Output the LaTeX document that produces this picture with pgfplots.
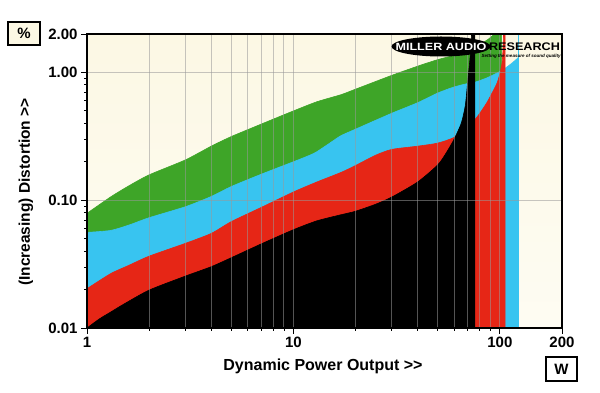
\documentclass[border=0pt]{standalone}
\usepackage{pgfplots}
\pgfplotsset{compat=1.18}
\usepackage{fontspec}
\setmainfont{Liberation Sans}
\definecolor{cream}{RGB}{252,248,228}
\definecolor{mgreen}{RGB}{62,165,40}
\definecolor{mblue}{RGB}{56,196,240}
\definecolor{mred}{RGB}{230,38,22}
\begin{document}
\begin{tikzpicture}[x=1pt,y=1pt]
\useasboundingbox (0,0) rectangle (600,393);
\begin{axis}[
  at={(87pt,65pt)}, anchor=south west,
  width=475pt, height=294pt, scale only axis,
  xmode=log, ymode=log, log origin y=infty,
  xmin=1, xmax=200, ymin=0.01, ymax=2,
  xtick={1,10,100,200}, xticklabels={1,10,100,200},
  minor xtick={2,3,4,5,6,7,8,9,20,30,40,50,60,70,80,90},
  ytick={0.01,0.1,1,2}, yticklabels={0.01,0.10,1.00,2.00},
  minor ytick={0.02,0.03,0.04,0.05,0.06,0.07,0.08,0.09,0.2,0.3,0.4,0.5,0.6,0.7,0.8,0.9},
  xmajorgrids, xminorgrids, ymajorgrids,
  major grid style={black!40, line width=1pt, opacity=0.55},
  minor grid style={black!40, line width=1pt, opacity=0.55},
  tick align=outside, tick pos=left,
  major tick length=6pt, minor tick length=3pt,
  every tick/.style={black, line width=0.9pt},
  /pgf/number format/assume math mode=true,
  tick label style={font=\bfseries\fontsize{15}{15}\selectfont},
  axis line style={line width=1.6pt},
  axis on top,
  axis background/.style={top color=cream, bottom color=cream!45!white},
]
% green
\addplot[smooth, tension=0.4, fill=mgreen, draw=mgreen, line width=0.6pt] coordinates {
(1,0.079) (1.3,0.106) (1.6,0.13) (2,0.158) (3,0.207) (4,0.265) (5,0.315)
(7,0.395) (10,0.50) (13,0.59) (17,0.67) (20,0.74) (30,0.95) (40,1.12) (50,1.26)
(60,1.36) (70,1.48) (76,1.58) (87,1.80) (95,2.05) (99,2.6) (102,2.6)} \closedcycle;
% blue
\addplot[smooth, tension=0.4, fill=mblue, draw=mblue, line width=0.6pt] coordinates {
(1,0.056) (1.3,0.058) (1.6,0.064) (2,0.073) (3,0.089) (4,0.107) (5,0.128)
(7,0.16) (10,0.20) (12,0.225) (13,0.24) (15,0.28) (17,0.32) (20,0.36) (30,0.48)
(40,0.58) (50,0.69) (60,0.77) (70,0.82) (76,0.84) (87,0.91) (98,1.0) (107,1.09)
(115,1.19) (123,1.31)} \closedcycle;
\addplot[fill=mblue, draw=mblue, line width=0.8pt] coordinates {(122.6,0.01) (122.6,1.31) (123,1.31) (123,2.6) (123.5,2.6) (123.5,0.01)};
% red
\addplot[smooth, tension=0.4, fill=mred, draw=mred, line width=0.6pt] coordinates {
(1,0.0203) (1.3,0.0266) (1.6,0.031) (2,0.0365) (3,0.046) (4,0.055) (5,0.068)
(7,0.088) (10,0.116) (13,0.139) (17,0.165) (20,0.187) (25,0.225) (30,0.25) (40,0.265)
(50,0.28) (60,0.31) (70,0.37) (76,0.43) (80,0.48) (87,0.59) (97,0.83) (101,1.05)
(103,1.3) (105,2.6) (106,2.6)} \closedcycle;
% black
\addplot[smooth, tension=0.4, fill=black, draw=black, line width=0.6pt] coordinates {
(1,0.01) (1.15,0.0118) (1.3,0.0133) (1.5,0.0153) (2,0.0198) (3,0.0255) (4,0.0302)
(5,0.0355) (7,0.0456) (10,0.0588) (13,0.0690) (17,0.077) (20,0.082) (25,0.093)
(30,0.106) (40,0.139) (50,0.189) (55,0.235) (60,0.30) (65,0.40) (68,0.55) (70,0.88)
(72,1.4) (73.7,2.6) (75.6,2.6)} \closedcycle;
\end{axis}
% logo
\fill[black] (441,346.5) ellipse [x radius=49.5, y radius=10];
\node[text=white, font=\bfseries\fontsize{10.5}{10.5}\selectfont, xscale=1.2, inner sep=0] at (441,346.5) {MILLER AUDIO};
\node[text=black, font=\bfseries\fontsize{11}{11}\selectfont, xscale=1.15, inner sep=0] at (524.5,346.5) {RESEARCH};
\node[text=black, font=\bfseries\itshape\fontsize{4.5}{4.5}\selectfont, inner sep=0] at (521,337) {Setting the measure of sound quality};
% boxes
\draw[fill=cream, line width=1.2pt] (8,348) rectangle (40,371);
\node[font=\bfseries\fontsize{15}{15}\selectfont] at (24,359.5) {\%};
\draw[fill=white, line width=1.2pt] (546,12) rectangle (577,36);
\node[font=\bfseries\fontsize{15}{15}\selectfont] at (561.5,24) {W};
% labels
\node[rotate=90, font=\bfseries\fontsize{15.5}{15.5}\selectfont] at (26,201) {(Increasing) Distortion >{}>};
\node[font=\bfseries\fontsize{16}{16}\selectfont] at (323,27) {Dynamic Power Output >{}>};
\end{tikzpicture}
\end{document}
